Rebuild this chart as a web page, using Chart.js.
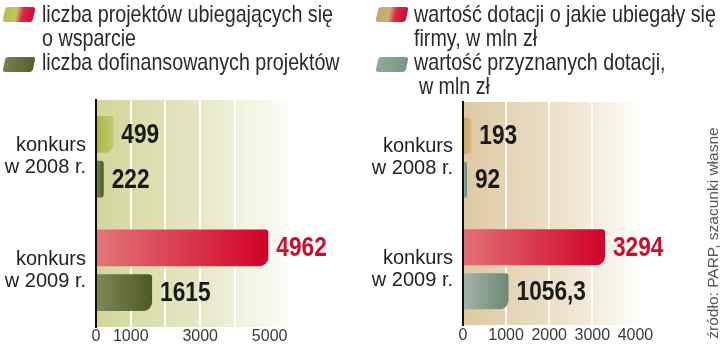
<!DOCTYPE html>
<html>
<head>
<meta charset="utf-8">
<script src="https://cdn.jsdelivr.net/npm/chart.js@4.4.1/dist/chart.umd.min.js"></script>
<style>
  html, body { margin:0; padding:0; background:#fff; }
  #wrap { position:relative; width:720px; height:345px; overflow:hidden; }
  canvas { position:absolute; top:0; }
  #c1 { left:0; }
  #c2 { left:360px; }
  .leg { position:absolute; font-family:"Liberation Sans",Arial,sans-serif; font-size:24px; line-height:24px; color:#2a2a2a; white-space:nowrap; z-index:2; transform:scaleX(0.82); transform-origin:0 0; }
  .sw { position:absolute; width:30px; height:15px; border-radius:3px; transform:skewX(-12deg); z-index:2; }
  #src { position:absolute; left:603px; top:224px; width:220px; height:18px; line-height:18px; text-align:center;
         font-family:"Liberation Sans",Arial,sans-serif; font-size:15.5px; color:#555; transform:rotate(-90deg); transform-origin:center; white-space:nowrap; }
</style>
</head>
<body>
<div id="wrap">
  <canvas id="c1" width="360" height="345"></canvas>
  <canvas id="c2" width="360" height="345"></canvas>

  <div class="sw" style="left:4px;top:7px;background:linear-gradient(90deg,#b2bd4c 0%,#c1c75e 40%,#dc2a44 62%,#d10a30 100%);"></div>
  <div class="sw" style="left:4px;top:57px;background:linear-gradient(90deg,#76824c 0%,#56622f 100%);"></div>
  <div class="leg" style="left:42px;top:2px;">liczba projektów ubiegających się<br>o wsparcie<br>liczba dofinansowanych projektów</div>

  <div class="sw" style="left:377px;top:7px;background:linear-gradient(90deg,#c7a86c 0%,#cfae74 40%,#dc2a44 62%,#d10a30 100%);"></div>
  <div class="sw" style="left:377px;top:57px;background:linear-gradient(90deg,#93a898 0%,#7b9683 100%);"></div>
  <div class="leg" style="left:414px;top:2px;">wartość dotacji o jakie ubiegały się<br>firmy, w mln zł<br>wartość przyznanych dotacji,<br><span style="padding-left:6px">w mln zł</span></div>

  <div id="src">źródło: PARP, szacunki własne</div>
</div>
<script>
// ---- data ----
const categories = [["konkurs", "w 2008 r."], ["konkurs", "w 2009 r."]];
const projectsApplied = [499, 4962];
const projectsFunded = [222, 1615];
const amountApplied = [193, 3294];
const amountGranted = [92, 1056.3];
const leftGridTicks = [0, 1000, 2000, 3000, 4000, 5000];
const leftTickLabels = [0, 1000, 3000, 5000];
const rightGridTicks = [0, 1000, 2000, 3000, 4000];
const rightTickLabels = [0, 1000, 2000, 3000, 4000];

// ---- styles ----
const leftApplColors = [["#a6b444", "#c3cb68"], ["#e27676", "#d2002a"]];
const leftFundColors = [["#7f8858", "#4d5925"], ["#7f8858", "#4d5925"]];
const rightApplColors = [["#c5a466", "#d3b985"], ["#e07272", "#d2002a"]];
const rightGrantColors = [["#a4b4aa", "#6d8873"], ["#a4b4aa", "#6d8873"]];
const DARK = "#1a1a1a", RED = "#c8102e";

function fmt(v) { return String(v).replace(".", ","); }

function barGradient(pairs) {
  return function (ctx) {
    const chart = ctx.chart;
    const pair = pairs[ctx.dataIndex] || pairs[0];
    if (!chart.chartArea || ctx.raw === undefined) return pair[0];
    const xs = chart.scales.x;
    const x0 = xs.getPixelForValue(0);
    const x1 = Math.max(xs.getPixelForValue(ctx.raw), x0 + 1);
    const g = chart.ctx.createLinearGradient(x0, 0, x1, 0);
    g.addColorStop(0, pair[0]);
    g.addColorStop(1, pair[1]);
    return g;
  };
}

const bgPlugin = {
  id: "bgGrad",
  beforeDraw(chart, args, opts) {
    const { ctx, chartArea: a } = chart;
    if (!a) return;
    const g = ctx.createLinearGradient(a.left, 0, opts.fadeX, 0);
    g.addColorStop(0, opts.c0);
    g.addColorStop(0.5, opts.c1);
    g.addColorStop(1, "#fefefb");
    ctx.save();
    ctx.fillStyle = g;
    ctx.fillRect(a.left, a.top, Math.max(opts.fadeX - a.left, 0), a.bottom - a.top);
    ctx.restore();
  }
};

const valuePlugin = {
  id: "values",
  afterDraw(chart) {
    const ctx = chart.ctx;
    chart.data.datasets.forEach((ds, di) => {
      const meta = chart.getDatasetMeta(di);
      meta.data.forEach((bar, i) => {
        ctx.save();
        ctx.font = 'bold 27px "Liberation Sans", Arial, sans-serif';
        ctx.textBaseline = "middle";
        ctx.textAlign = "left";
        ctx.fillStyle = ds.labelColors[i];
        ctx.translate(bar.x + 8, bar.y + 1);
        ctx.scale(0.84, 1);
        ctx.fillText(fmt(ds.data[i]), 0, 0);
        ctx.restore();
      });
    });
  }
};

function makeChart(id, d1, d2, c1, c2, lc1, lc2, cfg) {
  return new Chart(document.getElementById(id), {
    type: "bar",
    data: {
      labels: categories,
      datasets: [
        { data: d1, backgroundColor: barGradient(c1), labelColors: lc1,
          borderRadius: { topRight: 3, bottomRight: 9, topLeft: 0, bottomLeft: 0 }, borderSkipped: "start",
          categoryPercentage: 0.79, barPercentage: 0.82 },
        { data: d2, backgroundColor: barGradient(c2), labelColors: lc2,
          borderRadius: { topRight: 3, bottomRight: 9, topLeft: 0, bottomLeft: 0 }, borderSkipped: "start",
          categoryPercentage: 0.79, barPercentage: 0.82 }
      ]
    },
    options: {
      indexAxis: "y",
      responsive: false,
      animation: false,
      layout: { padding: { top: cfg.top, right: cfg.right, left: 0, bottom: 0 } },
      plugins: {
        legend: { display: false },
        tooltip: { enabled: false },
        bgGrad: { fadeX: cfg.fadeX, c0: cfg.bg0, c1: cfg.bg1 }
      },
      scales: {
        x: {
          min: 0, max: cfg.max, z: 1,
          border: { display: false },
          grid: {
            drawTicks: false, lineWidth: 2,
            color: (c) => (c.tick && c.tick.value > 0 && c.tick.value <= cfg.lastGrid) ? "rgba(255,255,255,0.95)" : "rgba(0,0,0,0)"
          },
          ticks: {
            padding: cfg.tickPad, color: "#3a3a3a", maxRotation: 0, minRotation: 0, autoSkip: false,
            font: { family: '"Liberation Sans", Arial, sans-serif', size: 16, lineHeight: 1 }
          },
          afterBuildTicks: (s) => { s.ticks = cfg.gridTicks.map((v) => ({ value: v })); },
          afterTickToLabelConversion: (s) => {
            s.ticks.forEach((t) => {
              t.label = cfg.tickLabels.indexOf(t.value) >= 0 ? String(t.value) : "";
            });
          },
          afterFit: (s) => { s.height = cfg.xh; s.paddingLeft = 0; s.paddingRight = 0; }
        },
        y: {
          z: 2,
          border: { display: true, color: "#111", width: 2 },
          grid: { display: false, drawTicks: false },
          ticks: {
            padding: 10, color: "#222",
            font: { family: '"Liberation Sans", Arial, sans-serif', size: 20, lineHeight: 1.1 }
          },
          afterFit: (s) => { s.width = cfg.yw; s.paddingTop = 0; s.paddingBottom = 0; }
        }
      }
    },
    plugins: [bgPlugin, valuePlugin]
  });
}

makeChart("c1", projectsApplied, projectsFunded, leftApplColors, leftFundColors,
  [DARK, RED], [DARK, DARK],
  { top: 100, right: 73, max: 5500, fadeX: 292, bg0: "#d2d69a", bg1: "#e4e6c2", lastGrid: 4000,
    gridTicks: leftGridTicks, tickLabels: leftTickLabels, tickPad: 2, xh: 18, yw: 96 });

makeChart("c2", amountApplied, amountGranted, rightApplColors, rightGrantColors,
  [DARK, RED], [DARK, DARK],
  { top: 102, right: 63, max: 4500, fadeX: 282, bg0: "#ddc9a2", bg1: "#ebdfc6", lastGrid: 4000,
    gridTicks: rightGridTicks, tickLabels: rightTickLabels, tickPad: 3, xh: 20, yw: 103 });
</script>
</body>
</html>
